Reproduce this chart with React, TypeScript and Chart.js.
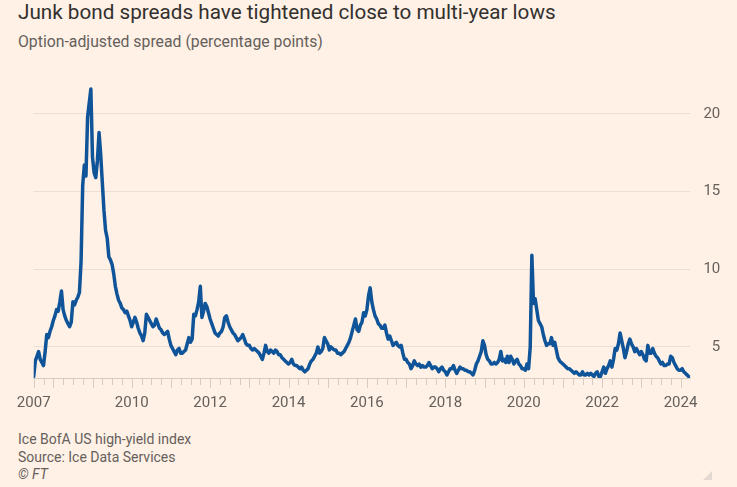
import React, { useEffect, useRef } from "react";
import { Chart, registerables } from "chart.js";

Chart.register(...registerables);

// ICE BofA US high-yield option-adjusted spread, percentage points.
// Semi-monthly observations (1st and 16th of each month); 2007 starts in July.
const oas2007 = [3.1, 4.1, 4.4, 4.7, 4.2, 4.0, 3.8, 4.7, 5.8, 5.6, 6.0, 6.3];
const oas2008 = [6.7, 7.0, 7.4, 7.3, 7.9, 8.6, 7.4, 7.0, 6.7, 6.5, 6.3, 6.6, 7.9, 7.7, 8.0, 8.2, 8.5, 10.5, 15.4, 16.7, 16.0, 19.8, 20.7, 21.6];
const oas2009 = [17.2, 16.2, 15.9, 17.0, 18.8, 17.4, 15.6, 13.8, 12.5, 12.0, 10.8, 10.6, 10.3, 9.7, 8.9, 8.4, 8.0, 7.8, 7.5, 7.4, 7.2, 7.3, 7.0, 6.7];
const oas2010 = [6.3, 6.6, 6.9, 6.6, 6.2, 5.9, 5.7, 5.4, 5.9, 7.1, 6.9, 6.7, 6.5, 6.3, 6.4, 6.8, 6.5, 6.2, 6.1, 5.9, 5.8, 5.9, 6.0, 5.5];
const oas2011 = [5.1, 4.9, 4.7, 4.5, 4.8, 4.9, 4.6, 4.6, 4.7, 4.8, 5.2, 5.6, 5.3, 5.5, 7.1, 7.0, 7.4, 7.9, 8.9, 6.9, 7.3, 7.8, 7.6, 7.2];
const oas2012 = [6.8, 6.5, 6.2, 5.9, 5.8, 5.7, 5.9, 6.0, 6.3, 6.9, 7.0, 6.6, 6.3, 6.1, 5.9, 5.8, 5.6, 5.4, 5.5, 5.6, 5.8, 5.5, 5.2, 5.1];
const oas2013 = [5.1, 4.9, 4.8, 4.9, 4.8, 4.7, 4.6, 4.4, 4.2, 4.6, 5.1, 4.7, 4.6, 4.8, 4.7, 4.6, 4.8, 4.7, 4.5, 4.5, 4.3, 4.2, 4.1, 4.0];
const oas2014 = [3.9, 4.0, 4.2, 3.9, 3.8, 3.8, 3.7, 3.6, 3.7, 3.5, 3.4, 3.5, 3.6, 3.9, 4.1, 4.2, 4.4, 4.6, 5.0, 4.6, 4.7, 4.9, 5.6, 5.4];
const oas2015 = [5.2, 4.8, 5.0, 4.9, 4.8, 4.8, 4.6, 4.6, 4.5, 4.6, 4.7, 4.9, 5.1, 5.3, 5.6, 6.0, 6.4, 6.8, 6.1, 6.0, 6.4, 6.6, 7.2, 7.0];
const oas2016 = [7.4, 8.3, 8.8, 7.9, 7.4, 7.0, 6.8, 6.5, 6.4, 6.2, 6.2, 6.4, 5.9, 5.5, 5.7, 5.4, 5.1, 5.2, 5.3, 5.1, 5.0, 5.1, 4.6, 4.2];
const oas2017 = [4.2, 4.0, 3.9, 3.6, 3.8, 4.1, 3.9, 3.8, 3.9, 3.7, 3.8, 3.7, 3.7, 3.8, 4.0, 3.8, 3.6, 3.7, 3.7, 3.6, 3.4, 3.6, 3.7, 3.5];
const oas2018 = [3.4, 3.2, 3.4, 3.6, 3.6, 3.8, 3.5, 3.3, 3.5, 3.7, 3.6, 3.6, 3.5, 3.5, 3.4, 3.4, 3.3, 3.2, 3.5, 3.9, 4.1, 4.4, 4.7, 5.4];
const oas2019 = [5.1, 4.5, 4.2, 4.1, 3.9, 3.9, 4.0, 3.9, 4.0, 4.2, 4.7, 4.1, 4.2, 4.0, 4.4, 4.0, 4.4, 4.2, 3.9, 4.1, 4.2, 3.9, 3.8, 3.6];
const oas2020 = [3.6, 3.5, 3.9, 3.6, 5.0, 10.9, 7.8, 8.1, 7.4, 6.7, 6.5, 6.3, 5.8, 5.4, 5.1, 5.2, 5.2, 5.6, 5.1, 5.3, 4.8, 4.3, 4.1, 4.0];
const oas2021 = [3.9, 3.8, 3.7, 3.6, 3.6, 3.5, 3.4, 3.3, 3.4, 3.3, 3.2, 3.2, 3.4, 3.2, 3.2, 3.3, 3.2, 3.3, 3.2, 3.1, 3.3, 3.4, 3.1, 3.1];
const oas2022 = [3.4, 3.7, 3.3, 3.6, 3.8, 4.1, 3.7, 4.2, 4.9, 4.8, 5.2, 5.9, 5.4, 4.9, 4.3, 4.7, 5.2, 5.5, 5.2, 5.0, 4.7, 4.9, 4.7, 4.5];
const oas2023 = [4.7, 4.5, 4.2, 4.1, 5.1, 4.6, 4.6, 4.9, 4.6, 4.4, 4.3, 4.1, 3.9, 4.0, 3.8, 3.8, 3.9, 3.9, 4.4, 4.3, 4.0, 3.8, 3.6, 3.5];
const oas2024 = [3.5, 3.6, 3.4, 3.3, 3.2, 3.1];

const spreadYears: Array<[number, number[]]> = [
  [2007, oas2007], [2008, oas2008], [2009, oas2009], [2010, oas2010],
  [2011, oas2011], [2012, oas2012], [2013, oas2013], [2014, oas2014],
  [2015, oas2015], [2016, oas2016], [2017, oas2017], [2018, oas2018],
  [2019, oas2019], [2020, oas2020], [2021, oas2021], [2022, oas2022],
  [2023, oas2023], [2024, oas2024],
];

// Axis labels
const xLabelYears = [2007.5, 2010, 2012, 2014, 2016, 2018, 2020, 2022, 2024];
const xLabelText = ["2007", "2010", "2012", "2014", "2016", "2018", "2020", "2022", "2024"];
const yTickValues = [5, 10, 15, 20];

const X_MIN = 2007.5;
const X_MAX = 2024.25;
const Y_MIN = 3;
const Y_MAX = 22.5;

const FONT = "Roboto, 'Open Sans', sans-serif";
const BG = "#FFF1E5";
const LINE = "#0F5499";
const MUTED = "#66605C";

function buildPoints() {
  const pts: { x: number; y: number }[] = [];
  for (const [year, values] of spreadYears) {
    const firstSlot = year === 2007 ? 24 - values.length : 0;
    values.forEach((v, i) => {
      pts.push({ x: year + (firstSlot + i) / 24, y: v });
    });
  }
  return pts;
}

// Quarterly tick marks under the x axis, longer at each year
const quarterTicks = {
  id: "quarterTicks",
  afterDraw(chart: any) {
    const xs = chart.scales.x;
    const ctx = chart.ctx;
    const top = chart.chartArea.bottom;
    ctx.save();
    ctx.strokeStyle = "#D7CCC2";
    ctx.lineWidth = 1;
    for (let q = 0; X_MIN + q * 0.25 <= 2024.0001; q++) {
      const t = X_MIN + q * 0.25;
      const major = Math.abs(t - Math.round(t)) < 1e-6 || q === 0;
      const px = Math.round(xs.getPixelForValue(t)) + 0.5;
      ctx.beginPath();
      ctx.moveTo(px, top);
      ctx.lineTo(px, top + (major ? 10 : 7));
      ctx.stroke();
    }
    ctx.restore();
  },
};

function SpreadChart() {
  const ref = useRef<HTMLCanvasElement | null>(null);
  useEffect(() => {
    if (!ref.current) return;
    const chart = new Chart(ref.current, {
      type: "line",
      data: {
        datasets: [
          {
            data: buildPoints(),
            borderColor: LINE,
            borderWidth: 3.5,
            pointRadius: 0,
            tension: 0,
            borderJoinStyle: "round",
            borderCapStyle: "round",
          },
        ],
      },
      options: {
        animation: false,
        responsive: false,
        layout: { padding: { left: 33.7, right: 16.7, top: 10.5, bottom: 0 } },
        plugins: { legend: { display: false }, tooltip: { enabled: false } },
        scales: {
          x: {
            type: "linear",
            min: X_MIN,
            max: X_MAX,
            afterBuildTicks: (axis: any) => {
              axis.ticks = xLabelYears.map((v) => ({ value: v }));
            },
            afterFit: (axis: any) => {
              axis.height = 42;
            },
            ticks: {
              autoSkip: false,
              maxRotation: 0,
              padding: 16,
              color: MUTED,
              font: { family: FONT, size: 15 },
              callback: (v: any) => {
                const i = xLabelYears.indexOf(Number(v));
                return i >= 0 ? xLabelText[i] : "";
              },
            },
            grid: { display: false, drawTicks: false },
            border: { display: true, color: "#D7CCC2", width: 1 },
          },
          y: {
            position: "right",
            min: Y_MIN,
            max: Y_MAX,
            afterBuildTicks: (axis: any) => {
              axis.ticks = yTickValues.map((v) => ({ value: v }));
            },
            afterFit: (axis: any) => {
              axis.width = 30;
            },
            ticks: {
              padding: 6,
              crossAlign: "far",
              color: MUTED,
              font: { family: FONT, size: 15 },
            },
            grid: { color: "#EBDFD5", lineWidth: 1, drawTicks: false },
            border: { display: false },
          },
        },
      },
      plugins: [quarterTicks],
    } as any);
    return () => chart.destroy();
  }, []);
  return <canvas ref={ref} width={737} height={360} style={{ position: "absolute", left: 0, top: 60, width: 737, height: 360 }} />;
}

export default function App() {
  return (
    <div
      style={{
        position: "fixed",
        left: 0,
        top: 0,
        width: 737,
        height: 487,
        background: BG,
        fontFamily: FONT,
        overflow: "hidden",
      }}
    >
      <div style={{ position: "absolute", left: 18, top: 0, fontSize: 20.7, lineHeight: "24px", color: "#33302E", whiteSpace: "nowrap" }}>
        Junk bond spreads have tightened close to multi-year lows
      </div>
      <div style={{ position: "absolute", left: 18, top: 33, fontSize: 15.8, lineHeight: "18px", color: MUTED, whiteSpace: "nowrap" }}>
        Option-adjusted spread (percentage points)
      </div>
      <SpreadChart />
      <div style={{ position: "absolute", left: 18, top: 431, fontSize: 14, lineHeight: "17.5px", color: MUTED, whiteSpace: "nowrap" }}>
        <div>Ice BofA US high-yield index</div>
        <div>Source: Ice Data Services</div>
        <div style={{ fontStyle: "italic" }}>© FT</div>
      </div>
      <div
        style={{
          position: "absolute",
          left: 703,
          top: 471,
          width: 0,
          height: 0,
          borderLeft: "9px solid transparent",
          borderBottom: "9px solid #E3D9D0",
        }}
      />
    </div>
  );
}
